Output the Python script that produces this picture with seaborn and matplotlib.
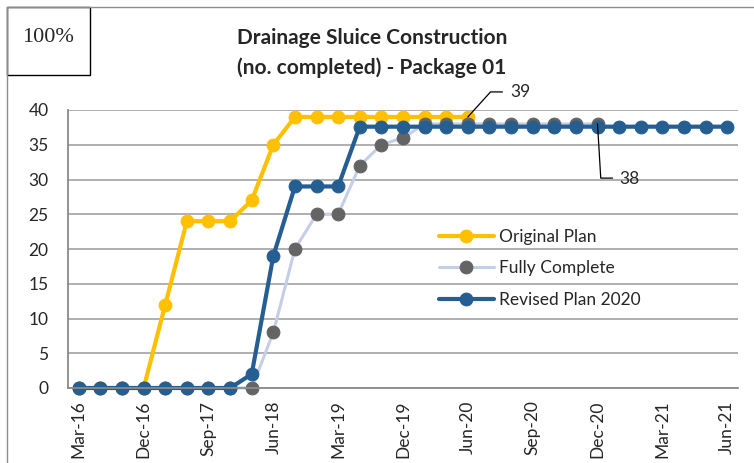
import numpy as np
import pandas as pd
import matplotlib
matplotlib.use("Agg")
import matplotlib.pyplot as plt
import seaborn as sns
from matplotlib.lines import Line2D
from matplotlib.patches import Rectangle

# Perioder (kategoriaxel, var tredje etikett visas)
periods = ["Mar-16", "Jun-16", "Sep-16", "Dec-16", "Mar-17", "Jun-17", "Sep-17", "Dec-17",
           "Mar-18", "Jun-18", "Sep-18", "Dec-18", "Mar-19", "Jun-19", "Sep-19", "Dec-19",
           "Feb-20", "Apr-20", "Jun-20", "Jul-20", "Aug-20", "Sep-20", "Oct-20", "Nov-20",
           "Dec-20", "Jan-21", "Feb-21", "Mar-21", "Apr-21", "May-21", "Jun-21"]

nan = np.nan
original_plan = [0, 0, 0, 0, 12, 24, 24, 24, 27, 35, 39, 39, 39, 39, 39, 39, 39, 39, 39,
                 nan, nan, nan, nan, nan, nan, nan, nan, nan, nan, nan, nan]
fully_complete = [0, 0, 0, 0, 0, 0, 0, 0, 0, 8, 20, 25, 25, 32, 35, 36, 38, 38, 38,
                  38, 38, 38, 38, 38, 38, nan, nan, nan, nan, nan, nan]
revised_plan = [0, 0, 0, 0, 0, 0, 0, 0, 2, 19, 29, 29, 29, 37.6, 37.6, 37.6, 37.6, 37.6, 37.6,
                37.6, 37.6, 37.6, 37.6, 37.6, 37.6, 37.6, 37.6, 37.6, 37.6, 37.6, 37.6]

df = pd.DataFrame({"Period": periods,
                   "Original Plan": original_plan,
                   "Fully Complete": fully_complete,
                   "Revised Plan 2020": revised_plan})
df["pos"] = np.arange(len(df))

sns.set_style("white")
plt.rcParams["font.family"] = ["Lato", "DejaVu Sans"]

fig = plt.figure(figsize=(7.54, 4.63), dpi=100)
ax = fig.add_axes([68 / 754, 1 - 388 / 463, 670 / 754, 278 / 463])

# Linjer: (serie, linjefärg, markörfärg, linjebredd)
styles = [("Original Plan", "#FFC000", "#FFC000", 3.0),
          ("Fully Complete", "#C5CEE8", "#646464", 2.2),
          ("Revised Plan 2020", "#255E91", "#255E91", 3.0)]
for name, lc, mc, lw in styles:
    sns.lineplot(data=df, x="pos", y=name, ax=ax, color=lc, lw=lw, marker="o",
                 markersize=9.2, markerfacecolor=mc, markeredgecolor=mc,
                 label=name, clip_on=False)

ax.set_xlim(-0.5, len(periods) - 0.5)
ax.set_ylim(0, 40)
ax.set_yticks(range(0, 41, 5))
ax.set_xticks(df["pos"][::3])
ax.set_xticklabels(df["Period"][::3], rotation=90, fontsize=12.5)
ax.tick_params(axis="y", labelsize=12.5, length=0, pad=14)
ax.tick_params(axis="x", length=0, pad=9)
ax.set_xlabel("")
ax.set_ylabel("")
ax.grid(axis="y", color="#9a9a9a", lw=1.1)
ax.set_axisbelow(True)
for s in ["top", "right"]:
    ax.spines[s].set_visible(False)
for s in ["left", "bottom"]:
    ax.spines[s].set_color("#8a8a8a")
    ax.spines[s].set_linewidth(1.3)

ax.legend(frameon=False, loc="upper left", bbox_to_anchor=(0.553, 0.573),
          borderaxespad=0, borderpad=0, handlelength=3.2, handletextpad=0.3,
          labelspacing=0.9, fontsize=12.5)

# Dataetiketter med ledarlinjer
i39 = 18
ax.plot([i39, i39 + 1.05, i39 + 1.6], [original_plan[i39], 42.6, 42.6],
        color="black", lw=0.9, clip_on=False)
ax.text(i39 + 1.95, 42.6, "39", fontsize=12.5, va="center", ha="left")
i38 = 24
ax.plot([i38, i38 + 0.15, i38 + 0.7], [fully_complete[i38], 30.2, 30.2],
        color="black", lw=0.9, clip_on=False)
ax.text(i38 + 1.0, 30.0, "38", fontsize=12.5, va="center", ha="left")

fig.text(372 / 754, 1 - 53 / 463,
         "Drainage Sluice Construction\n(no. completed) - Package 01",
         ha="center", va="center", fontsize=15, fontweight="bold", linespacing=1.6)

# Diagramram och "100%"-ruta
fig.add_artist(Line2D([7 / 754, 7 / 754], [0, 1 - 7 / 463], color="#8c8c8c", lw=1.0))
fig.add_artist(Line2D([7 / 754, 1], [1 - 7 / 463, 1 - 7 / 463], color="#8c8c8c", lw=1.0))
fig.add_artist(Rectangle((7 / 754, 1 - 75 / 463), 83 / 754, 68 / 463,
                         transform=fig.transFigure, facecolor="white",
                         edgecolor="black", lw=1.0))
fig.text(48 / 754, 1 - 38 / 463, "100%", ha="center", va="center",
         fontsize=16, family="Liberation Serif")

fig.savefig("out.png", dpi=100)
